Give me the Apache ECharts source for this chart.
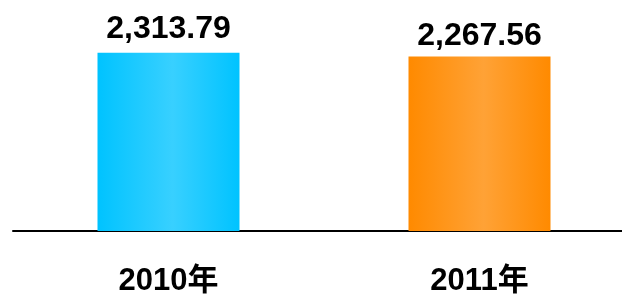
<!DOCTYPE html>
<html>
<head>
<meta charset="utf-8">
<script src="https://cdn.jsdelivr.net/npm/echarts@6/dist/echarts.min.js"></script>
<style>
  html, body {margin: 0; padding: 0; background: #fff;}
  #chart {width: 622px; height: 296px;}
</style>
</head>
<body>
<div id="chart"></div>
<script>
// 年份与数值
var years = ['2010年', '2011年'];
var values = [2313.79, 2267.56];
var labelGaps = [8, 4];

var edgeColors = ['#00c3ff', '#ff8a00'];
var midColors = ['#38d0ff', '#ffa236'];

function fmt(v) {
  var parts = v.toFixed(2).split('.');
  return parts[0].replace(/\B(?=(\d{3})+(?!\d))/g, ',') + '.' + parts[1];
}

var seriesData = values.map(function (v, i) {
  return {
    value: v,
    itemStyle: {
      color: new echarts.graphic.LinearGradient(0, 0, 1, 0, [
        {offset: 0, color: edgeColors[i]},
        {offset: 0.53, color: midColors[i]},
        {offset: 1, color: edgeColors[i]}
      ])
    },
    label: {distance: labelGaps[i]}
  };
});

var option = {
  animation: false,
  grid: {
    left: 13,
    width: 622,
    top: 0,
    bottom: 65,
    outerBoundsMode: 'none',
    containLabel: false
  },
  xAxis: {
    type: 'category',
    data: years,
    axisLine: {lineStyle: {color: '#000', width: 2}},
    axisTick: {show: false},
    axisLabel: {
      margin: 35,
      color: '#000',
      fontSize: 31,
      fontWeight: 'bold',
      fontFamily: 'Liberation Sans, Arial, Noto Sans CJK SC, sans-serif'
    }
  },
  yAxis: {
    type: 'value',
    min: 0,
    max: 3000,
    show: false,
    splitLine: {show: false}
  },
  series: [
    {
      type: 'bar',
      barWidth: 142,
      data: seriesData,
      label: {
        show: true,
        position: 'top',
        color: '#000',
        fontSize: 32,
        fontWeight: 'bold',
        fontFamily: 'Liberation Sans, Arial, sans-serif',
        formatter: function (p) {
          return fmt(p.value);
        }
      }
    }
  ]
};

var chart = echarts.init(document.getElementById('chart'));
chart.setOption(option, true);
</script>
</body>
</html>
